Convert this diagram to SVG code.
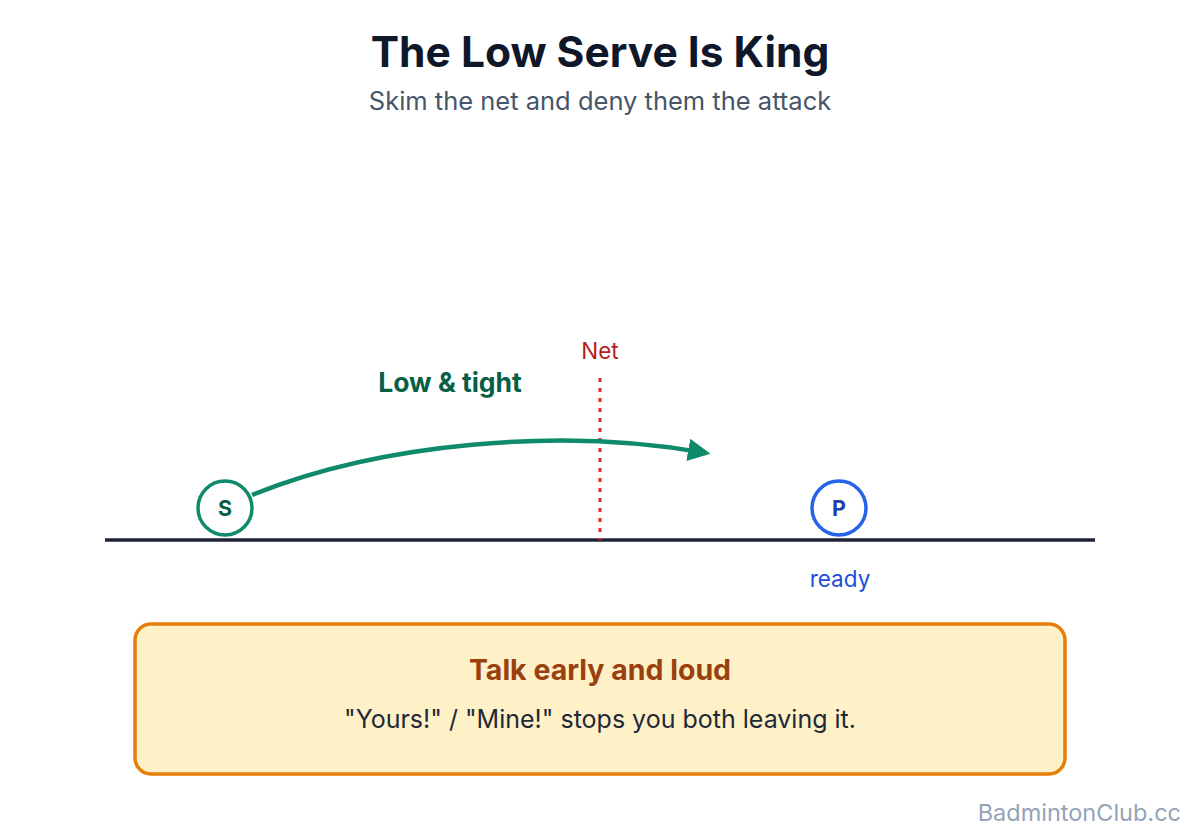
<svg xmlns="http://www.w3.org/2000/svg" width="1200" height="840" viewBox="0 0 1200 840">
<style>
text{font-family:Inter,"Noto Sans","Liberation Sans",sans-serif}
.title{font-size:42.5px;font-weight:700;fill:#0f172a;text-anchor:middle}
.sub{font-size:25.5px;fill:#475569;text-anchor:middle}
.node{fill:#ffffff;stroke-width:3.5}
.lbl{font-size:21.5px;font-weight:700;text-anchor:middle}
</style>
<defs>
<marker id="arr" viewBox="0 0 10 10" refX="8" refY="5" markerWidth="5" markerHeight="5" markerUnits="strokeWidth" orient="auto">
<path d="M0,0 L10,5 L0,10 Z" fill="#0f8a6a"/>
</marker>
</defs>
<rect width="1200" height="840" fill="#ffffff"/>
<text class="title" x="600" y="67">The Low Serve Is King</text>
<text class="sub" x="600" y="110">Skim the net and deny them the attack</text>
<g id="court">
<line x1="105" y1="540" x2="1095" y2="540" stroke="#1e2433" stroke-width="3.5"/>
</g>
<g id="net">
<line x1="600" y1="378" x2="600" y2="540" stroke="#dc2626" stroke-width="3" stroke-dasharray="4 6"/>
<text x="600" y="359" font-size="22.5" fill="#b91c1c" text-anchor="middle">Net</text>
</g>
<g id="connectors">
<path d="M252,495 C380,443 560,427 706,453" fill="none" stroke="#0f8a6a" stroke-width="4.5" marker-end="url(#arr)"/>
<text x="450" y="392" font-size="26.5" font-weight="700" fill="#065f46" text-anchor="middle">Low &amp; tight</text>
</g>
<g id="server">
<circle class="node" cx="225" cy="508" r="27" stroke="#0f8a6a"/>
<text class="lbl" x="225" y="516" fill="#065f46">S</text>
</g>
<g id="partner">
<circle class="node" cx="839" cy="508" r="27" stroke="#2563eb"/>
<text class="lbl" x="839" y="516" fill="#1e40af">P</text>
<text x="840" y="587" font-size="22.5" fill="#1d4ed8" text-anchor="middle">ready</text>
</g>
<g id="tip">
<rect x="135" y="624" width="930" height="150" rx="16" fill="#fef0c7" stroke="#e67e0a" stroke-width="3.5"/>
<text x="600" y="680" font-size="28.5" font-weight="700" fill="#9a3f0e" text-anchor="middle">Talk early and loud</text>
<text x="600" y="728" font-size="25" fill="#1f2937" text-anchor="middle">"Yours!" / "Mine!" stops you both leaving it.</text>
</g>
<text x="1181" y="821" font-size="23.5" fill="#94a3b8" text-anchor="end">BadmintonClub.cc</text>
</svg>
